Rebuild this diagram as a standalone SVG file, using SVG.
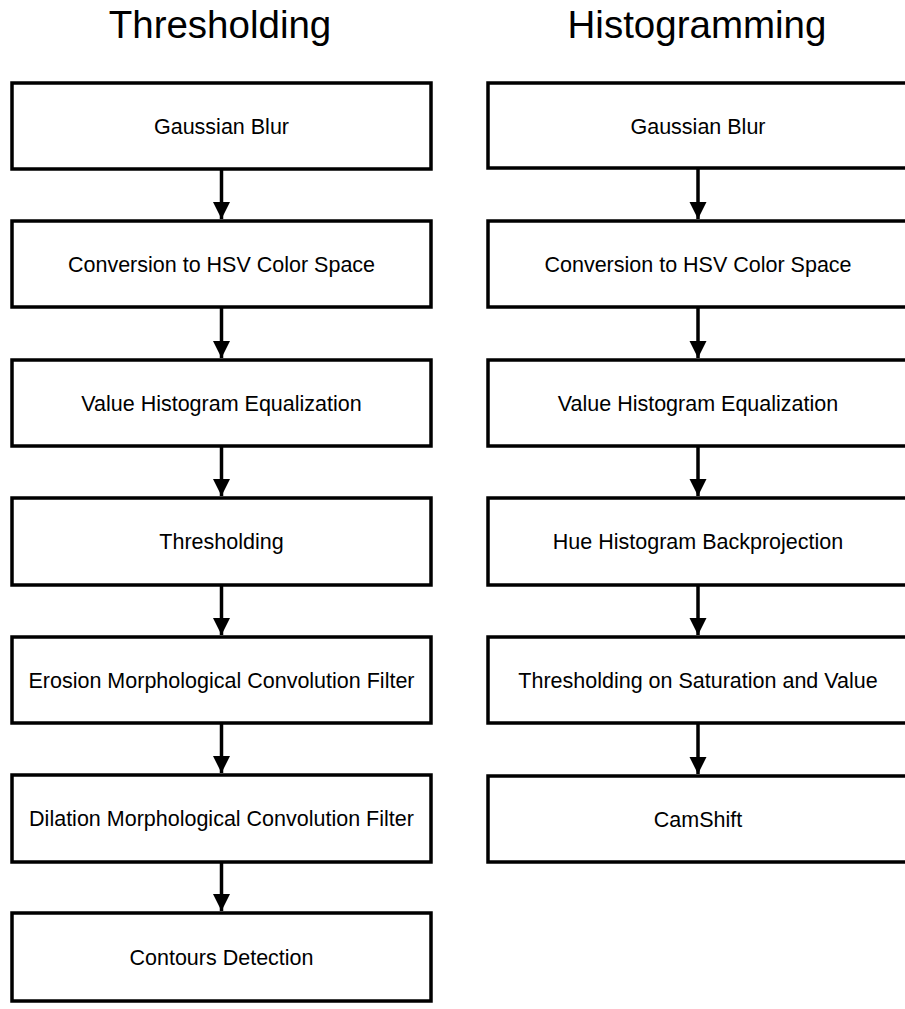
<svg xmlns="http://www.w3.org/2000/svg" width="905" height="1009" viewBox="0 0 905 1009">
<defs>
<style>
.box{fill:#fff;stroke:#000;stroke-width:3.5}
.lbl{font-family:"Liberation Sans",Arial,sans-serif;font-size:21.5px;fill:#000;text-anchor:middle}
.ttl{font-family:"Liberation Sans",Arial,sans-serif;font-size:38.5px;fill:#000;text-anchor:middle}
.con{stroke:#000;stroke-width:3.5;fill:none;marker-end:url(#ah)}
</style>
<marker id="ah" markerUnits="userSpaceOnUse" markerWidth="18" markerHeight="18" refX="17" refY="8.5" orient="auto">
<path d="M0,0 L17,8.5 L0,17 Z" fill="#000"/>
</marker>
</defs>
<rect width="905" height="1009" fill="#fff"/>
<text class="ttl" x="220" y="38">Thresholding</text>
<text class="ttl" x="697" y="38">Histogramming</text>
<g id="connectors">
<line class="con" x1="221.5" y1="169" x2="221.5" y2="219"/>
<line class="con" x1="221.5" y1="307" x2="221.5" y2="358"/>
<line class="con" x1="221.5" y1="446" x2="221.5" y2="496"/>
<line class="con" x1="221.5" y1="585" x2="221.5" y2="635"/>
<line class="con" x1="221.5" y1="723" x2="221.5" y2="773"/>
<line class="con" x1="221.5" y1="862" x2="221.5" y2="911"/>
<line class="con" x1="698" y1="168" x2="698" y2="219"/>
<line class="con" x1="698" y1="307" x2="698" y2="358"/>
<line class="con" x1="698" y1="446" x2="698" y2="496"/>
<line class="con" x1="698" y1="585" x2="698" y2="635"/>
<line class="con" x1="698" y1="723" x2="698" y2="774"/>
</g>
<g id="t1"><rect class="box" x="12" y="83" width="419" height="86"/><text class="lbl" x="221.5" y="134">Gaussian Blur</text></g>
<g id="t2"><rect class="box" x="12" y="221" width="419" height="86"/><text class="lbl" x="221.5" y="272">Conversion to HSV Color Space</text></g>
<g id="t3"><rect class="box" x="12" y="360" width="419" height="86"/><text class="lbl" x="221.5" y="411">Value Histogram Equalization</text></g>
<g id="t4"><rect class="box" x="12" y="498" width="419" height="87"/><text class="lbl" x="221.5" y="549">Thresholding</text></g>
<g id="t5"><rect class="box" x="12" y="637" width="419" height="86"/><text class="lbl" x="221.5" y="688">Erosion Morphological Convolution Filter</text></g>
<g id="t6"><rect class="box" x="12" y="775" width="419" height="87"/><text class="lbl" x="221.5" y="826">Dilation Morphological Convolution Filter</text></g>
<g id="t7"><rect class="box" x="12" y="913" width="419" height="88"/><text class="lbl" x="221.5" y="965">Contours Detection</text></g>
<g id="h1"><rect class="box" x="488" y="83" width="421" height="85"/><text class="lbl" x="698" y="134">Gaussian Blur</text></g>
<g id="h2"><rect class="box" x="488" y="221" width="421" height="86"/><text class="lbl" x="698" y="272">Conversion to HSV Color Space</text></g>
<g id="h3"><rect class="box" x="488" y="360" width="421" height="86"/><text class="lbl" x="698" y="411">Value Histogram Equalization</text></g>
<g id="h4"><rect class="box" x="488" y="498" width="421" height="87"/><text class="lbl" x="698" y="549">Hue Histogram Backprojection</text></g>
<g id="h5"><rect class="box" x="488" y="637" width="421" height="86"/><text class="lbl" x="698" y="688">Thresholding on Saturation and Value</text></g>
<g id="h6"><rect class="box" x="488" y="776" width="421" height="86"/><text class="lbl" x="698" y="827">CamShift</text></g>
</svg>
